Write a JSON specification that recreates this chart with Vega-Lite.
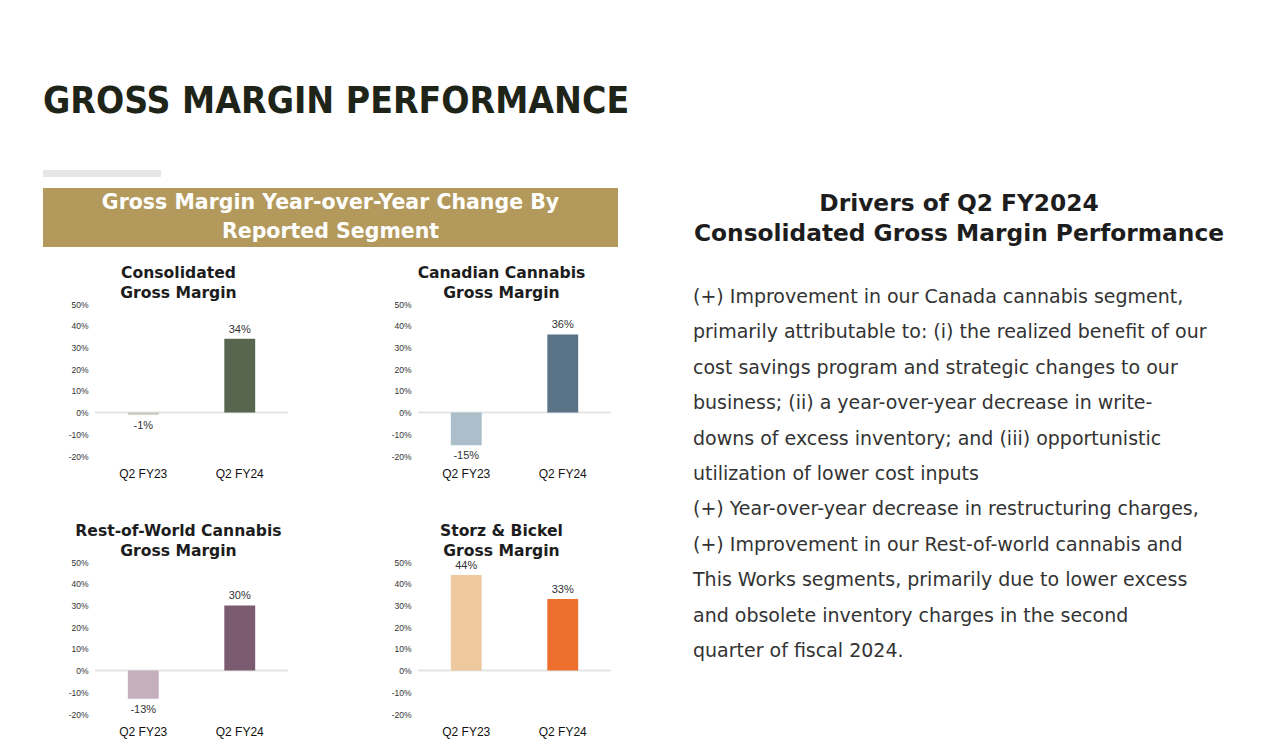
{
  "$schema": "https://vega.github.io/schema/vega-lite/v6.json",
  "background": "white",
  "padding": {"left": 43, "top": 83, "right": 5, "bottom": 5},
  "title": {"text": "GROSS MARGIN PERFORMANCE", "anchor": "start", "frame": "group", "font": "DejaVu Sans Condensed", "fontWeight": "bold", "fontSize": 37, "color": "#1f2419", "offset": 49},
  "datasets": {
    "gm": [
      {"segment": "Consolidated", "period": "Q2 FY23", "v": -1, "label": "-1%"},
      {"segment": "Consolidated", "period": "Q2 FY24", "v": 34, "label": "34%"},
      {"segment": "Canadian", "period": "Q2 FY23", "v": -15, "label": "-15%"},
      {"segment": "Canadian", "period": "Q2 FY24", "v": 36, "label": "36%"},
      {"segment": "RoW", "period": "Q2 FY23", "v": -13, "label": "-13%"},
      {"segment": "RoW", "period": "Q2 FY24", "v": 30, "label": "30%"},
      {"segment": "Storz", "period": "Q2 FY23", "v": 44, "label": "44%"},
      {"segment": "Storz", "period": "Q2 FY24", "v": 33, "label": "33%"}
    ],
    "banner": [
      {"i": 1, "t": "Gross Margin Year-over-Year Change By"},
      {"i": 2, "t": "Reported Segment"}
    ],
    "rtitle": [
      {"i": 1, "t": "Drivers of Q2 FY2024"},
      {"i": 2, "t": "Consolidated Gross Margin Performance"}
    ],
    "body": [
      {"i": 1, "t": "(+) Improvement in our Canada cannabis segment,"},
      {"i": 2, "t": "primarily attributable to: (i) the realized benefit of our"},
      {"i": 3, "t": "cost savings program and strategic changes to our"},
      {"i": 4, "t": "business; (ii) a year-over-year decrease in write-"},
      {"i": 5, "t": "downs of excess inventory; and (iii) opportunistic"},
      {"i": 6, "t": "utilization of lower cost inputs"},
      {"i": 7, "t": "(+) Year-over-year decrease in restructuring charges,"},
      {"i": 8, "t": "(+) Improvement in our Rest-of-world cannabis and"},
      {"i": 9, "t": "This Works segments, primarily due to lower excess"},
      {"i": 10, "t": "and obsolete inventory charges in the second"},
      {"i": 11, "t": "quarter of fiscal 2024."}
    ]
  },
  "spacing": 75,
  "resolve": {"scale": {"color": "independent", "x": "independent", "y": "independent"}},
  "hconcat": [
    {
      "spacing": 11,
      "resolve": {"scale": {"color": "independent", "x": "independent", "y": "independent"}},
      "vconcat": [
        {"width": 118, "height": 7, "view": {"fill": "#e6e6e6", "stroke": null}, "data": {"values": []}, "mark": "point"},
        {
          "spacing": 19,
          "resolve": {"scale": {"color": "independent", "x": "independent", "y": "independent"}},
          "vconcat": [
            {
              "width": 575, "height": 59,
              "view": {"fill": "#b39a5c", "stroke": null},
              "data": {"name": "banner"},
              "mark": {"type": "text", "font": "DejaVu Sans", "fontWeight": "bold", "fontSize": 20.5, "color": "white"},
              "encoding": {
                "y": {"field": "i", "type": "ordinal", "axis": null},
                "text": {"field": "t"}
              }
            },
            {
              "spacing": 24,
              "resolve": {"scale": {"color": "independent", "x": "independent", "y": "independent"}},
              "hconcat": [
                {"width": 1, "height": 1, "data": {"values": []}, "mark": "point"},
                {
                  "columns": 2,
                  "bounds": "flush",
                  "spacing": {"row": 106, "column": 130},
                  "resolve": {"scale": {"color": "independent", "x": "independent", "y": "independent"}},
                  "concat": [
                    {
                      "width": 193, "height": 152,
                      "title": {"text": ["Consolidated", "Gross Margin"], "font": "DejaVu Sans", "fontWeight": "bold", "fontSize": 15.6, "color": "#1d1d1d", "lineHeight": 20, "offset": -2, "anchor": "middle", "frame": "bounds"},
                      "data": {"name": "gm"},
                      "transform": [{"filter": "datum.segment == 'Consolidated'"}],
                      "layer": [
                        {"mark": {"type": "rule", "color": "#e3e3e3", "strokeWidth": 1.5}, "encoding": {"y": {"datum": 0, "type": "quantitative", "scale": {"domain": [-20, 50], "nice": false}, "axis": {"title": null, "values": [-20, -10, 0, 10, 20, 30, 40, 50], "tickCount": 8, "labelExpr": "datum.value + '%'", "labelOverlap": false, "domain": false, "ticks": false, "grid": false, "labelFont": "Liberation Sans", "labelFontSize": 8.5, "labelColor": "#333", "labelPadding": 7}}}},
                        {"mark": {"type": "bar"},
                         "encoding": {
                           "x": {"field": "period", "type": "nominal", "scale": {"paddingInner": 0.68, "paddingOuter": 0.34}, "axis": {"title": null, "labelAngle": 0, "domain": false, "ticks": false, "labelFont": "Liberation Sans", "labelFontSize": 12, "labelColor": "#111", "labelPadding": 12}},
                           "y": {"field": "v", "type": "quantitative"},
                           "color": {"field": "period", "type": "nominal", "scale": {"domain": ["Q2 FY23", "Q2 FY24"], "range": ["#c4c8be", "#58654f"]}, "legend": null}
                         }},
                        {"transform": [{"filter": "datum.v >= 0"}], "mark": {"type": "text", "baseline": "bottom", "dy": -4, "font": "Liberation Sans", "fontSize": 11, "color": "#333"},
                         "encoding": {"x": {"field": "period", "type": "nominal"}, "y": {"field": "v", "type": "quantitative"}, "text": {"field": "label"}}},
                        {"transform": [{"filter": "datum.v < 0"}], "mark": {"type": "text", "baseline": "top", "dy": 5, "font": "Liberation Sans", "fontSize": 11, "color": "#333"},
                         "encoding": {"x": {"field": "period", "type": "nominal"}, "y": {"field": "v", "type": "quantitative"}, "text": {"field": "label"}}}
                      ]
                    },
                    {
                      "width": 193, "height": 152,
                      "title": {"text": ["Canadian Cannabis", "Gross Margin"], "font": "DejaVu Sans", "fontWeight": "bold", "fontSize": 15.6, "color": "#1d1d1d", "lineHeight": 20, "offset": -2, "anchor": "middle", "frame": "bounds"},
                      "data": {"name": "gm"},
                      "transform": [{"filter": "datum.segment == 'Canadian'"}],
                      "layer": [
                        {"mark": {"type": "rule", "color": "#e3e3e3", "strokeWidth": 1.5}, "encoding": {"y": {"datum": 0, "type": "quantitative", "scale": {"domain": [-20, 50], "nice": false}, "axis": {"title": null, "values": [-20, -10, 0, 10, 20, 30, 40, 50], "tickCount": 8, "labelExpr": "datum.value + '%'", "labelOverlap": false, "domain": false, "ticks": false, "grid": false, "labelFont": "Liberation Sans", "labelFontSize": 8.5, "labelColor": "#333", "labelPadding": 7}}}},
                        {"mark": {"type": "bar"},
                         "encoding": {
                           "x": {"field": "period", "type": "nominal", "scale": {"paddingInner": 0.68, "paddingOuter": 0.34}, "axis": {"title": null, "labelAngle": 0, "domain": false, "ticks": false, "labelFont": "Liberation Sans", "labelFontSize": 12, "labelColor": "#111", "labelPadding": 12}},
                           "y": {"field": "v", "type": "quantitative"},
                           "color": {"field": "period", "type": "nominal", "scale": {"domain": ["Q2 FY23", "Q2 FY24"], "range": ["#adbecb", "#5a7387"]}, "legend": null}
                         }},
                        {"transform": [{"filter": "datum.v >= 0"}], "mark": {"type": "text", "baseline": "bottom", "dy": -4, "font": "Liberation Sans", "fontSize": 11, "color": "#333"},
                         "encoding": {"x": {"field": "period", "type": "nominal"}, "y": {"field": "v", "type": "quantitative"}, "text": {"field": "label"}}},
                        {"transform": [{"filter": "datum.v < 0"}], "mark": {"type": "text", "baseline": "top", "dy": 5, "font": "Liberation Sans", "fontSize": 11, "color": "#333"},
                         "encoding": {"x": {"field": "period", "type": "nominal"}, "y": {"field": "v", "type": "quantitative"}, "text": {"field": "label"}}}
                      ]
                    },
                    {
                      "width": 193, "height": 152,
                      "title": {"text": ["Rest-of-World Cannabis", "Gross Margin"], "font": "DejaVu Sans", "fontWeight": "bold", "fontSize": 15.6, "color": "#1d1d1d", "lineHeight": 20, "offset": -2, "anchor": "middle", "frame": "bounds"},
                      "data": {"name": "gm"},
                      "transform": [{"filter": "datum.segment == 'RoW'"}],
                      "layer": [
                        {"mark": {"type": "rule", "color": "#e3e3e3", "strokeWidth": 1.5}, "encoding": {"y": {"datum": 0, "type": "quantitative", "scale": {"domain": [-20, 50], "nice": false}, "axis": {"title": null, "values": [-20, -10, 0, 10, 20, 30, 40, 50], "tickCount": 8, "labelExpr": "datum.value + '%'", "labelOverlap": false, "domain": false, "ticks": false, "grid": false, "labelFont": "Liberation Sans", "labelFontSize": 8.5, "labelColor": "#333", "labelPadding": 7}}}},
                        {"mark": {"type": "bar"},
                         "encoding": {
                           "x": {"field": "period", "type": "nominal", "scale": {"paddingInner": 0.68, "paddingOuter": 0.34}, "axis": {"title": null, "labelAngle": 0, "domain": false, "ticks": false, "labelFont": "Liberation Sans", "labelFontSize": 12, "labelColor": "#111", "labelPadding": 12}},
                           "y": {"field": "v", "type": "quantitative"},
                           "color": {"field": "period", "type": "nominal", "scale": {"domain": ["Q2 FY23", "Q2 FY24"], "range": ["#c3afbe", "#7b5b70"]}, "legend": null}
                         }},
                        {"transform": [{"filter": "datum.v >= 0"}], "mark": {"type": "text", "baseline": "bottom", "dy": -4, "font": "Liberation Sans", "fontSize": 11, "color": "#333"},
                         "encoding": {"x": {"field": "period", "type": "nominal"}, "y": {"field": "v", "type": "quantitative"}, "text": {"field": "label"}}},
                        {"transform": [{"filter": "datum.v < 0"}], "mark": {"type": "text", "baseline": "top", "dy": 5, "font": "Liberation Sans", "fontSize": 11, "color": "#333"},
                         "encoding": {"x": {"field": "period", "type": "nominal"}, "y": {"field": "v", "type": "quantitative"}, "text": {"field": "label"}}}
                      ]
                    },
                    {
                      "width": 193, "height": 152,
                      "title": {"text": ["Storz & Bickel", "Gross Margin"], "font": "DejaVu Sans", "fontWeight": "bold", "fontSize": 15.6, "color": "#1d1d1d", "lineHeight": 20, "offset": -2, "anchor": "middle", "frame": "bounds"},
                      "data": {"name": "gm"},
                      "transform": [{"filter": "datum.segment == 'Storz'"}],
                      "layer": [
                        {"mark": {"type": "rule", "color": "#e3e3e3", "strokeWidth": 1.5}, "encoding": {"y": {"datum": 0, "type": "quantitative", "scale": {"domain": [-20, 50], "nice": false}, "axis": {"title": null, "values": [-20, -10, 0, 10, 20, 30, 40, 50], "tickCount": 8, "labelExpr": "datum.value + '%'", "labelOverlap": false, "domain": false, "ticks": false, "grid": false, "labelFont": "Liberation Sans", "labelFontSize": 8.5, "labelColor": "#333", "labelPadding": 7}}}},
                        {"mark": {"type": "bar"},
                         "encoding": {
                           "x": {"field": "period", "type": "nominal", "scale": {"paddingInner": 0.68, "paddingOuter": 0.34}, "axis": {"title": null, "labelAngle": 0, "domain": false, "ticks": false, "labelFont": "Liberation Sans", "labelFontSize": 12, "labelColor": "#111", "labelPadding": 12}},
                           "y": {"field": "v", "type": "quantitative"},
                           "color": {"field": "period", "type": "nominal", "scale": {"domain": ["Q2 FY23", "Q2 FY24"], "range": ["#eec9a0", "#ec6f2d"]}, "legend": null}
                         }},
                        {"transform": [{"filter": "datum.v >= 0"}], "mark": {"type": "text", "baseline": "bottom", "dy": -4, "font": "Liberation Sans", "fontSize": 11, "color": "#333"},
                         "encoding": {"x": {"field": "period", "type": "nominal"}, "y": {"field": "v", "type": "quantitative"}, "text": {"field": "label"}}},
                        {"transform": [{"filter": "datum.v < 0"}], "mark": {"type": "text", "baseline": "top", "dy": 5, "font": "Liberation Sans", "fontSize": 11, "color": "#333"},
                         "encoding": {"x": {"field": "period", "type": "nominal"}, "y": {"field": "v", "type": "quantitative"}, "text": {"field": "label"}}}
                      ]
                    }
                  ]
                }
              ]
            }
          ]
        }
      ]
    },
    {
      "width": 532, "height": 500,
      "resolve": {"scale": {"y": "independent"}},
      "layer": [
        {"data": {"name": "rtitle"},
         "mark": {"type": "text", "font": "DejaVu Sans", "fontWeight": "bold", "fontSize": 23.3, "color": "#1d1d1d"},
         "encoding": {"y": {"field": "i", "type": "ordinal", "axis": null, "scale": {"range": [34, 64], "padding": 0}}, "text": {"field": "t"}}},
        {"data": {"name": "body"},
         "mark": {"type": "text", "align": "left", "font": "DejaVu Sans", "fontSize": 19, "color": "#333"},
         "encoding": {"x": {"value": 0}, "y": {"field": "i", "type": "ordinal", "axis": null, "scale": {"range": [127, 481], "padding": 0}}, "text": {"field": "t"}}}
      ]
    }
  ],
  "config": {"view": {"stroke": null}}
}
